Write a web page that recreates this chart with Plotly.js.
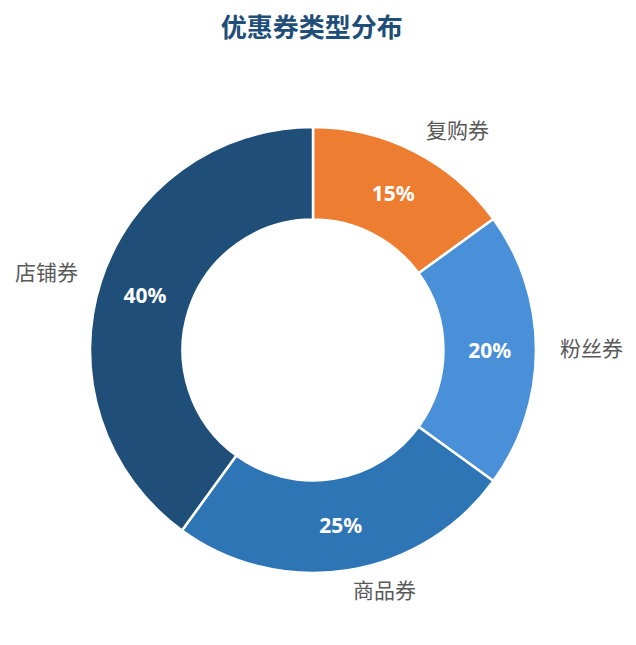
<!DOCTYPE html>
<html>
<head>
<meta charset="utf-8">
<script src="https://cdn.plot.ly/plotly-3.0.1.min.js"></script>
<style>
  body { margin: 0; background: #fff; }
  #myDiv { width: 636px; height: 645px; }
</style>
</head>
<body>
<div id="myDiv"></div>
<script>
// dados do grafico (ordem horaria a partir do topo)
var labels = ["复购券", "粉丝券", "商品券", "店铺券"];
var values = [15, 20, 25, 40];
var colors = ["#ed7d31", "#4a90d9", "#2e75b6", "#1f4e79"];

var W = 636, H = 645;
var mar = { l: 90, r: 100, t: 127, b: 72 };

var data = [{
  type: "pie",
  labels: labels,
  values: values,
  sort: false,
  direction: "clockwise",
  rotation: 0,
  hole: 0.585,
  marker: { colors: colors, line: { color: "#ffffff", width: 2.5 } },
  textinfo: "percent",
  texttemplate: "%{percent:.0%}",
  textposition: "inside",
  insidetextorientation: "horizontal",
  textfont: { family: "Noto Sans, Open Sans, sans-serif", size: 21, color: "#ffffff", weight: "bold" },
  automargin: false,
  hoverinfo: "label+percent"
}];

// rotulos externos: posicao calculada a partir do angulo medio de cada fatia
var total = 0;
for (var i in values) total += values[i];

var plotW = W - mar.l - mar.r;
var plotH = H - mar.t - mar.b;
var raio = Math.min(plotW, plotH) / 2;
var rLabel = raio + 22;
var cx = mar.l + plotW / 2;
var cy = mar.t + plotH / 2 - 3; // pequeno ajuste vertical do texto

var annotations = [];
var acum = 0;
for (var i = 0; i < values.length; i++) {
  var meio = (acum + values[i] / 2) / total * 2 * Math.PI;
  acum += values[i];
  var px = cx + rLabel * Math.sin(meio);
  var py = cy - rLabel * Math.cos(meio);
  annotations.push({
    xref: "paper", yref: "paper",
    x: (px - mar.l) / plotW,
    y: 1 - (py - mar.t) / plotH,
    text: labels[i],
    showarrow: false,
    xanchor: Math.sin(meio) >= 0 ? "left" : "right",
    yanchor: "middle",
    font: { family: "Noto Sans CJK SC, sans-serif", size: 21, color: "#595959" }
  });
}

var layout = {
  width: W,
  height: H,
  margin: mar,
  paper_bgcolor: "#ffffff",
  showlegend: false,
  title: {
    text: "<b>优惠券类型分布</b>",
    x: 0.49,
    xanchor: "center",
    y: 0.957,
    yanchor: "middle",
    font: { family: "Noto Sans CJK SC, sans-serif", size: 26, color: "#1f4e79" }
  },
  annotations: annotations
};

Plotly.newPlot('myDiv', data, layout, { displayModeBar: false });
</script>
</body>
</html>
